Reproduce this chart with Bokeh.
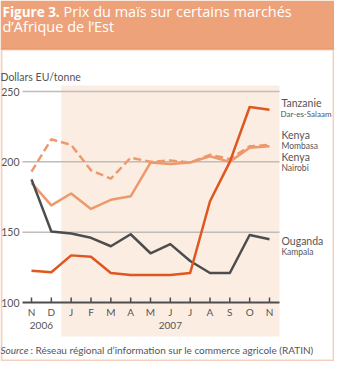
from bokeh.plotting import figure
from bokeh.models import Label, BoxAnnotation
from bokeh.core.properties import value
from bokeh.embed import file_html
from bokeh.resources import INLINE

# ---- data ----
months = ["N", "D", "J", "F", "M", "A", "M", "J", "J", "A", "S", "O", "N"]
month_idx = list(range(len(months)))
years = ["2006", "2007"]
year_pos = [0.5, 7.0]
y_ticks = [100, 150, 200, 250]
y_tick_labels = ["100", "150", "200", "250"]
grid_ticks = [150, 200, 250]

tanzanie_dar = [122.5, 121.5, 133.5, 132.5, 121, 119.5, 119.5, 119.5, 121, 172, 200, 239, 237]
kenya_mombasa = [193, 216, 212, 194, 188, 203, 200, 201, 199.5, 205, 202, 211, 212]
kenya_nairobi = [185, 169, 177.5, 166.5, 173, 175.5, 199.5, 198.5, 199.5, 204, 200, 210, 211]
ouganda_kampala = [187.5, 150.5, 149, 146, 140, 148.5, 135, 141.5, 129.5, 121, 121, 148, 145]

FONT = "Lato"
TFONT = "Open Sans"
C_TZ = "#DF5620"
C_KE = "#EE996B"
C_UG = "#4D4D4D"
C_TXT = "#555555"

W, H = 334, 361
# page-pixel helpers (page = figure offset by 8px body margin)
PX0, PXU = 39.0, (277.0 - 39.0) / 12.0          # x: month 0 at px 39
PY0, PYU = 310.0, (310.0 - 99.0) / 150.0        # y: value 100 at py 310


def X(px):
    return (px - PX0) / PXU


def Y(py):
    return 100.0 + (PY0 - py) / PYU


p = figure(width=W, height=H, output_backend="svg", toolbar_location=None,
           x_range=(X(8), X(8 + W)), y_range=(Y(8 + H), Y(8)),
           min_border=0)
p.outline_line_color = None
p.background_fill_color = "white"
p.border_fill_color = "white"
p.xaxis.visible = False
p.yaxis.visible = False
p.xgrid.visible = False
p.ygrid.visible = False


def SX(px):
    return px - 8


def SY(py):
    return (8 + H) - py


# shaded 2007 region (extends below axis)
p.add_layout(BoxAnnotation(left=1.5, right=X(287), top=SY(93), top_units="screen",
                           bottom=SY(344), bottom_units="screen", fill_color="#FCEDE3",
                           fill_alpha=1.0, line_color=None, level="image"))

# title band and outer frame
p.add_layout(BoxAnnotation(left=0, right=W, top=H, bottom=SY(57),
                           left_units="screen", right_units="screen", top_units="screen",
                           bottom_units="screen", fill_color="#EDA27A", fill_alpha=1.0,
                           line_color=None, level="image"))
p.add_layout(BoxAnnotation(left=1, right=W - 1, top=SY(57), bottom=1,
                           left_units="screen", right_units="screen", top_units="screen",
                           bottom_units="screen", fill_alpha=0, line_color="#E2622C",
                           line_width=2, level="overlay"))

# grid lines
gx0, gx1 = X(30), X(287)
p.segment(x0=[gx0] * len(grid_ticks), x1=[gx1] * len(grid_ticks), y0=grid_ticks, y1=grid_ticks,
          line_color="#BFBCB9", line_width=1.5)

# y tick labels
p.text(x=[X(27)] * len(y_ticks), y=y_ticks, text=y_tick_labels, text_font=value(FONT),
       text_font_size="10.5px", text_color=C_TXT, text_align="right", text_baseline="middle")

# series
p.line(month_idx, kenya_mombasa, line_color=C_KE, line_width=2.5, line_dash="8 4")
p.line(month_idx, kenya_nairobi, line_color=C_KE, line_width=2.5, line_join="round")
p.line(month_idx, ouganda_kampala, line_color=C_UG, line_width=2.5, line_join="round")
p.line(month_idx, tanzanie_dar, line_color=C_TZ, line_width=2.5, line_join="round")

# x axis line, ticks and labels
p.segment(x0=[gx0], x1=[gx1], y0=[y_ticks[0]], y1=[y_ticks[0]], line_color=C_UG, line_width=2)
p.segment(x0=month_idx, x1=month_idx, y0=[y_ticks[0]] * len(month_idx),
          y1=[Y(305)] * len(month_idx), line_color=C_UG, line_width=1.5)
p.text(x=month_idx, y=[Y(319)] * len(month_idx), text=months, text_font=value(FONT),
       text_font_size="10px", text_color=C_TXT, text_align="center", text_baseline="middle")
p.text(x=year_pos, y=[Y(333)] * len(year_pos), text=years, text_font=value(FONT),
       text_font_size="10px", text_color=C_TXT, text_align="center", text_baseline="middle")


def lab(text, px, py, size, color=C_TXT, style="normal", align="left", font=FONT):
    p.add_layout(Label(x=SX(px), y=SY(py), x_units="screen", y_units="screen", text=text,
                       text_font=font, text_font_size=size, text_color=color,
                       text_font_style=style, text_baseline="middle", text_align=align,
                       level="overlay"))


# title
lab("Figure 3.", 10, 19, "13.5px", color="white", style="bold", font=TFONT)
lab("Prix du maïs sur certains marchés", 71, 19, "14.5px", color="white", font=TFONT)
lab("d’Afrique de l’Est", 10, 34, "14.5px", color="white", font=TFONT)

# axis title
lab("Dollars EU/tonne", 8, 84, "10.5px")

# series labels
lab("Tanzanie", 289, 110, "10.5px")
lab("Dar-es-Salaam", 288, 121, "8px")
lab("Kenya", 289, 142, "10.5px")
lab("Mombasa", 289, 153, "8.5px")
lab("Kenya", 289, 164, "10.5px")
lab("Nairobi", 289, 175, "8.5px")
lab("Ouganda", 289, 248, "10.5px")
lab("Kampala", 289, 259, "8.5px")

# source
lab("Source", 8, 357, "10px", style="italic")
lab(": Réseau régional d’information sur le commerce agricole (RATIN)", 38, 357, "10px")

open("out.html", "w").write(file_html(p, INLINE))
